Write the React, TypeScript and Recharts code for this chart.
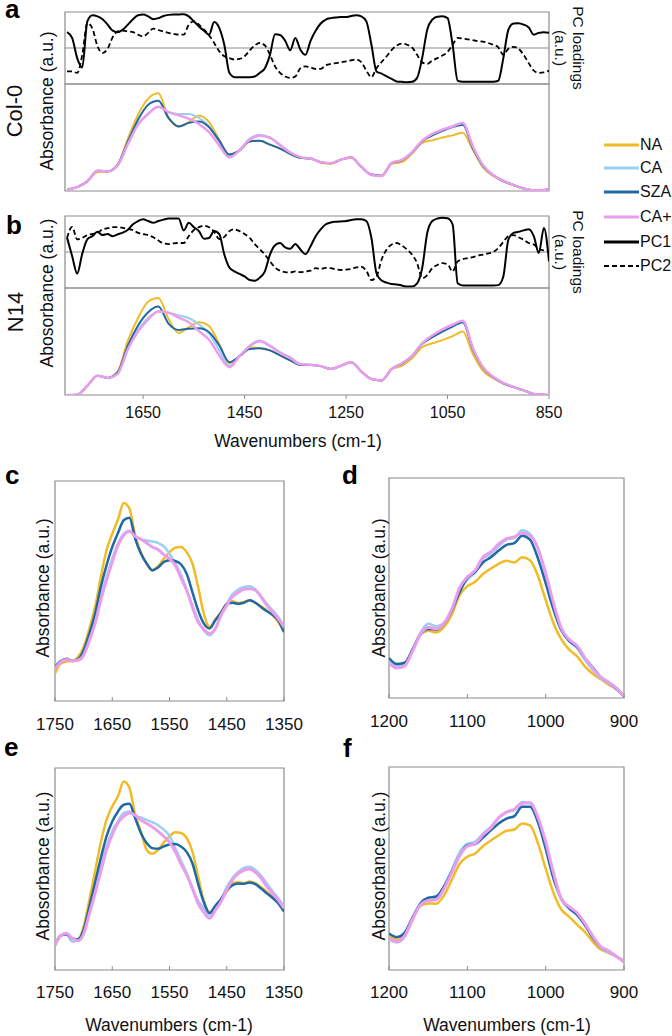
import { LineChart, Line, XAxis, YAxis, ReferenceArea, ReferenceLine } from "recharts";

const FONT = '"Liberation Sans", Arial, Helvetica, sans-serif';
const GRID = "#8c8c8c";
const COLORS = { na: "#f0bc26", ca: "#9ccff0", sza: "#1f6aa6", caPlus: "#eb9ded" };

// wavenumber grids (cm-1)
const wnFull = [
  1800, 1780, 1760, 1740, 1720, 1700, 1680, 1660, 1640, 1620, 1600, 1580, 1560, 1540, 1520, 1500, 1480, 1460,
  1440, 1420, 1400, 1380, 1360, 1340, 1320, 1300, 1280, 1260, 1240, 1220, 1200, 1180, 1160, 1140, 1120, 1100,
  1080, 1060, 1040, 1020, 1000, 980, 960, 940, 920, 900, 880, 860, 850,
];
const wnLoad = [
  1800, 1790, 1780, 1770, 1760, 1750, 1740, 1730, 1720, 1710, 1700, 1690, 1680, 1670, 1660, 1650, 1640, 1630,
  1620, 1610, 1600, 1590, 1580, 1570, 1560, 1550, 1540, 1530, 1520, 1510, 1500, 1490, 1480, 1470, 1460, 1450,
  1440, 1430, 1420, 1410, 1400, 1390, 1380, 1370, 1360, 1350, 1340, 1330, 1320, 1310, 1300, 1290, 1280, 1270,
  1260, 1250, 1240, 1230, 1220, 1210, 1200, 1190, 1180, 1170, 1160, 1150, 1140, 1130, 1120, 1110, 1100, 1090,
  1080, 1070, 1060, 1050, 1040, 1030, 1020, 1010, 1000, 990, 980, 970, 960, 950, 940, 930, 920, 910, 900, 890,
  880, 870, 860, 850,
];
const wnAmide = [
  1750, 1740, 1730, 1720, 1710, 1700, 1690, 1680, 1670, 1660, 1650, 1640, 1630, 1620, 1610, 1600, 1590, 1580,
  1570, 1560, 1550, 1540, 1530, 1520, 1510, 1500, 1490, 1480, 1470, 1460, 1450, 1440, 1430, 1420, 1410, 1400,
  1390, 1380, 1370, 1360, 1350,
];
const wnSugar = [
  1200, 1190, 1180, 1170, 1160, 1150, 1140, 1130, 1120, 1110, 1100, 1090, 1080, 1070, 1060, 1050, 1040, 1030,
  1020, 1010, 1000, 990, 980, 970, 960, 950, 940, 930, 920, 910, 900,
];

const ticksFull = [1650, 1450, 1250, 1050, 850];
const ticksAmide = [1750, 1650, 1550, 1450, 1350];
const ticksSugar = [1200, 1100, 1000, 900];

// Col-0 full spectra (panel a)
const colNA = [
  0.04, 0.11, 0.27, 0.53, 0.55, 0.74, 1.47, 2.14, 2.59, 2.74, 2.05, 1.81, 1.93, 2.12, 1.93, 1.44, 1.02, 1.14, 1.39,
  1.41, 1.3, 1.19, 1.04, 0.93, 0.91, 0.79, 0.76, 0.88, 0.95, 0.68, 0.46, 0.43, 0.76, 0.81, 1.05, 1.35, 1.42, 1.5,
  1.56, 1.63, 1.15, 0.66, 0.42, 0.27, 0.16, 0.06, 0.02, 0.03, 0.05,
];
const colSZA = [
  0.04, 0.11, 0.27, 0.57, 0.55, 0.74, 1.39, 2.0, 2.42, 2.53, 2.05, 1.81, 1.91, 1.95, 1.79, 1.41, 1.02, 1.14, 1.39,
  1.41, 1.3, 1.19, 1.04, 0.93, 0.91, 0.81, 0.78, 0.88, 0.94, 0.68, 0.46, 0.43, 0.78, 0.86, 1.08, 1.39, 1.56, 1.69,
  1.79, 1.86, 1.2, 0.7, 0.44, 0.28, 0.17, 0.07, 0.02, 0.03, 0.05,
];
const colCA = [
  0.04, 0.11, 0.27, 0.57, 0.55, 0.72, 1.32, 1.88, 2.18, 2.36, 2.21, 2.16, 2.16, 2.05, 1.81, 1.39, 0.96, 1.14, 1.47,
  1.58, 1.5, 1.3, 1.09, 0.95, 0.91, 0.81, 0.78, 0.88, 0.94, 0.68, 0.45, 0.42, 0.79, 0.87, 1.09, 1.41, 1.59, 1.72,
  1.82, 1.9, 1.23, 0.71, 0.44, 0.28, 0.17, 0.07, 0.02, 0.03, 0.05,
];
const colCAplus = [
  0.04, 0.11, 0.27, 0.57, 0.55, 0.72, 1.32, 1.86, 2.16, 2.36, 2.21, 2.12, 2.03, 1.88, 1.65, 1.28, 0.94, 1.14, 1.44,
  1.55, 1.49, 1.28, 1.08, 0.95, 0.91, 0.81, 0.78, 0.88, 0.94, 0.68, 0.45, 0.42, 0.79, 0.87, 1.09, 1.41, 1.6, 1.72,
  1.81, 1.91, 1.25, 0.72, 0.45, 0.29, 0.17, 0.07, 0.02, 0.03, 0.05,
];

// N14 full spectra (panel b)
const n14NA = [
  0.0, 0.01, 0.26, 0.54, 0.48, 0.66, 1.53, 2.16, 2.62, 2.72, 2.14, 1.74, 1.9, 2.04, 1.93, 1.43, 0.89, 1.09, 1.34,
  1.31, 1.25, 1.11, 0.97, 0.84, 0.84, 0.81, 0.73, 0.82, 0.92, 0.66, 0.45, 0.41, 0.73, 0.82, 1.03, 1.34, 1.45, 1.54,
  1.65, 1.78, 1.15, 0.68, 0.47, 0.32, 0.22, 0.13, 0.03, 0.01, 0.0,
];
const n14SZA = [
  0.0, 0.01, 0.26, 0.54, 0.48, 0.64, 1.39, 1.95, 2.32, 2.48, 2.0, 1.82, 1.86, 1.87, 1.76, 1.39, 0.92, 1.09, 1.29,
  1.31, 1.25, 1.11, 0.97, 0.84, 0.84, 0.81, 0.73, 0.82, 0.92, 0.66, 0.45, 0.41, 0.73, 0.88, 1.09, 1.43, 1.62, 1.78,
  1.92, 2.04, 1.28, 0.76, 0.5, 0.33, 0.22, 0.13, 0.03, 0.01, 0.0,
];
const n14CA = [
  0.0, 0.01, 0.26, 0.54, 0.48, 0.6, 1.29, 1.84, 2.16, 2.34, 2.31, 2.23, 2.16, 1.98, 1.72, 1.25, 0.82, 1.09, 1.39,
  1.53, 1.39, 1.2, 1.06, 0.87, 0.85, 0.81, 0.73, 0.82, 0.92, 0.66, 0.45, 0.41, 0.73, 0.89, 1.1, 1.45, 1.66, 1.83,
  1.96, 2.07, 1.3, 0.77, 0.5, 0.33, 0.22, 0.13, 0.03, 0.01, 0.0,
];
const n14CAplus = [
  0.0, 0.01, 0.26, 0.54, 0.48, 0.6, 1.29, 1.78, 2.12, 2.34, 2.31, 2.17, 2.04, 1.79, 1.55, 1.11, 0.78, 1.09, 1.37,
  1.51, 1.37, 1.18, 1.04, 0.86, 0.85, 0.81, 0.73, 0.82, 0.92, 0.66, 0.45, 0.41, 0.73, 0.89, 1.1, 1.45, 1.67, 1.84,
  1.97, 2.08, 1.32, 0.78, 0.51, 0.34, 0.23, 0.13, 0.03, 0.01, 0.0,
];

// PC loadings
const colPC1 = [
  0.44, 0.28, -0.28, -0.54, 0.74, 0.91, 0.88, 0.8, 0.65, 0.48, 0.44, 0.51, 0.65, 0.8, 0.91, 0.93, 0.88, 0.8, 0.83,
  0.89, 0.92, 0.93, 0.93, 0.94, 0.88, 0.74, 0.6, 0.48, 0.37, 0.72, 0.56, 0.09, -0.69, -0.81, -0.81, -0.81, -0.81,
  -0.79, -0.69, -0.56, -0.19, 0.38, 0.36, 0.2, -0.06, 0.28, -0.05, -0.19, 0.2, 0.48, 0.68, 0.79, 0.83, 0.85, 0.86,
  0.86, 0.89, 0.91, 0.88, 0.74, 0.09, -0.65, -0.71, -0.79, -0.86, -0.93, -0.94, -0.95, -0.94, -0.83, -0.28, 0.51,
  0.79, 0.87, 0.88, 0.83, 0.09, -0.91, -0.94, -0.94, -0.94, -0.94, -0.94, -0.94, -0.94, -0.91, -0.28, 0.51, 0.68,
  0.69, 0.65, 0.57, 0.37, 0.42, 0.44, 0.42,
];
const colPC2 = [
  -0.65, -0.65, -0.69, -0.19, 0.69, 0.54, 0.05, -0.14, -0.02, 0.3, 0.46, 0.48, 0.46, 0.44, 0.37, 0.32, 0.42, 0.54,
  0.5, 0.46, 0.42, 0.39, 0.37, 0.37, 0.65, 0.74, 0.65, 0.51, 0.35, 0.14, -0.09, -0.23, -0.28, -0.32, -0.3, -0.23,
  -0.07, 0.07, 0.14, 0.07, -0.19, -0.51, -0.69, -0.79, -0.83, -0.79, -0.56, -0.51, -0.54, -0.58, -0.58, -0.48,
  -0.44, -0.42, -0.4, -0.37, -0.34, -0.32, -0.39, -0.63, -0.81, -0.56, -0.39, -0.23, -0.05, 0.07, 0.12, 0.09, 0.02,
  -0.19, -0.4, -0.44, -0.35, -0.28, -0.21, -0.11, 0.09, 0.28, 0.26, 0.24, 0.22, 0.19, 0.18, 0.14, 0.09, 0.02, -0.19,
  -0.02, 0.03, -0.02, -0.19, -0.42, -0.63, -0.69, -0.68, -0.63,
];
const n14PC1 = [
  0.4, -0.11, -0.6, -0.05, 0.35, 0.44, 0.56, 0.47, 0.5, 0.44, 0.49, 0.54, 0.62, 0.77, 0.86, 0.91, 0.86, 0.81, 0.86,
  0.9, 0.93, 0.93, 0.93, 0.6, 0.81, 0.69, 0.58, 0.37, 0.39, 0.58, 0.5, -0.07, -0.43, -0.54, -0.61, -0.68, -0.78,
  -0.8, -0.71, -0.54, -0.07, 0.19, 0.25, 0.13, 0.09, 0.22, 0.07, -0.06, 0.16, 0.44, 0.63, 0.77, 0.82, 0.84, 0.85,
  0.86, 0.89, 0.91, 0.91, 0.86, 0.39, -0.59, -0.79, -0.85, -0.89, -0.9, -0.93, -0.96, -0.96, -0.87, -0.45, 0.53,
  0.86, 0.93, 0.95, 0.94, 0.77, -0.87, -0.93, -0.93, -0.93, -0.93, -0.93, -0.93, -0.93, -0.92, -0.68, 0.35, 0.53,
  0.56, 0.6, 0.63, 0.44, -0.03, 0.67, -0.26,
];
const n14PC2 = [
  0.39, 0.7, 0.35, 0.39, 0.47, 0.5, 0.53, 0.63, 0.66, 0.69, 0.69, 0.67, 0.64, 0.61, 0.53, 0.5, 0.47, 0.41, 0.32,
  0.24, 0.22, 0.24, 0.25, 0.25, 0.44, 0.61, 0.69, 0.73, 0.69, 0.56, 0.36, 0.42, 0.58, 0.63, 0.58, 0.5, 0.39, 0.22,
  0.08, -0.07, -0.26, -0.43, -0.52, -0.56, -0.57, -0.54, -0.56, -0.54, -0.52, -0.45, -0.47, -0.44, -0.45, -0.48,
  -0.5, -0.49, -0.47, -0.43, -0.41, -0.52, -0.78, -0.68, -0.21, 0.07, 0.21, 0.25, 0.18, 0.07, -0.07, -0.31, -0.73,
  -0.64, -0.45, -0.36, -0.31, -0.34, -0.54, -0.26, -0.2, -0.17, -0.14, -0.1, -0.07, -0.04, 0.0, 0.11, 0.28, 0.44,
  0.47, 0.41, 0.34, 0.25, 0.21, 0.09, 0.04, 0.02,
];

// zoomed regions, Col-0 (c, d)
const cNA = [
  0.75, 1.02, 1.08, 1.09, 1.2, 1.47, 1.97, 2.56, 3.38, 4.11, 4.56, 4.95, 5.4, 5.25, 4.52, 4.06, 3.75, 3.58, 3.67,
  3.88, 4.06, 4.18, 4.2, 4.06, 3.75, 3.11, 2.38, 2.02, 2.22, 2.43, 2.65, 2.72, 2.67, 2.7, 2.75, 2.68, 2.58, 2.47,
  2.34, 2.15, 1.88,
];
const cSZA = [
  0.93, 1.08, 1.15, 1.09, 1.14, 1.38, 1.84, 2.38, 3.11, 3.7, 4.2, 4.58, 4.93, 5.0, 4.43, 4.02, 3.75, 3.56, 3.64,
  3.79, 3.84, 3.82, 3.73, 3.47, 2.97, 2.47, 2.11, 1.98, 2.2, 2.41, 2.64, 2.68, 2.65, 2.68, 2.75, 2.68, 2.56, 2.45,
  2.35, 2.2, 1.88,
];
const cCA = [
  0.93, 1.1, 1.13, 1.09, 1.12, 1.29, 1.7, 2.2, 2.84, 3.38, 3.88, 4.29, 4.56, 4.64, 4.5, 4.41, 4.38, 4.35, 4.31,
  4.22, 4.02, 3.76, 3.45, 3.02, 2.61, 2.2, 1.93, 1.79, 1.97, 2.34, 2.65, 2.91, 3.04, 3.11, 3.13, 3.04, 2.85, 2.65,
  2.47, 2.29, 2.02,
];
const cCAplus = [
  0.88, 1.06, 1.13, 1.09, 1.11, 1.25, 1.65, 2.11, 2.75, 3.29, 3.79, 4.25, 4.52, 4.63, 4.49, 4.41, 4.31, 4.2, 4.13,
  3.99, 3.88, 3.7, 3.36, 3.02, 2.56, 2.15, 1.95, 1.84, 1.97, 2.34, 2.61, 2.84, 2.96, 3.05, 3.06, 3.02, 2.84, 2.61,
  2.43, 2.25, 2.02,
];
const dNA = [
  0.87, 0.77, 0.8, 1.1, 1.44, 1.53, 1.49, 1.61, 1.89, 2.33, 2.54, 2.64, 2.82, 2.94, 3.05, 3.12, 3.08, 3.2, 3.13,
  2.78, 2.23, 1.7, 1.33, 1.1, 0.95, 0.72, 0.55, 0.43, 0.31, 0.2, 0.04,
];
const dSZA = [
  0.91, 0.77, 0.8, 1.1, 1.44, 1.57, 1.55, 1.69, 1.98, 2.4, 2.73, 2.86, 3.08, 3.2, 3.35, 3.48, 3.52, 3.69, 3.6,
  3.18, 2.61, 2.01, 1.54, 1.29, 1.16, 0.91, 0.7, 0.48, 0.36, 0.22, 0.04,
];
const dCA = [
  0.83, 0.72, 0.77, 1.1, 1.48, 1.69, 1.63, 1.7, 2.01, 2.46, 2.69, 2.86, 3.16, 3.28, 3.45, 3.6, 3.64, 3.81, 3.73,
  3.41, 2.8, 2.12, 1.55, 1.33, 1.14, 0.87, 0.64, 0.45, 0.34, 0.2, 0.04,
];
const dCAplus = [
  0.8, 0.68, 0.73, 1.06, 1.44, 1.61, 1.57, 1.7, 2.01, 2.5, 2.75, 2.9, 3.2, 3.32, 3.5, 3.62, 3.66, 3.75, 3.69, 3.41,
  2.84, 2.16, 1.59, 1.33, 1.19, 0.91, 0.68, 0.48, 0.36, 0.23, 0.04,
];

// zoomed regions, N14 (e, f)
const eNA = [
  0.74, 1.02, 1.06, 0.94, 0.91, 1.29, 2.08, 2.93, 3.79, 4.46, 4.86, 5.16, 5.6, 5.41, 4.61, 4.12, 3.57, 3.45, 3.57,
  3.79, 3.97, 4.09, 4.07, 3.92, 3.52, 2.78, 2.06, 1.71, 1.88, 2.08, 2.33, 2.58, 2.61, 2.58, 2.63, 2.58, 2.46, 2.32,
  2.18, 2.0, 1.74,
];
const eSZA = [
  0.74, 1.02, 1.06, 0.94, 0.91, 1.19, 1.88, 2.6, 3.32, 3.97, 4.41, 4.71, 4.91, 4.94, 4.51, 4.07, 3.77, 3.62, 3.6,
  3.67, 3.73, 3.74, 3.67, 3.51, 3.17, 2.56, 2.01, 1.69, 1.91, 2.11, 2.36, 2.52, 2.57, 2.56, 2.6, 2.55, 2.42, 2.28,
  2.14, 1.98, 1.74,
];
const eCA = [
  0.74, 1.02, 1.06, 0.84, 0.9, 1.11, 1.77, 2.38, 3.03, 3.67, 4.12, 4.43, 4.66, 4.71, 4.58, 4.53, 4.46, 4.39, 4.3,
  4.17, 3.99, 3.62, 3.25, 2.88, 2.43, 2.06, 1.84, 1.64, 1.86, 2.08, 2.46, 2.73, 2.91, 3.03, 3.07, 2.97, 2.8, 2.57,
  2.34, 2.13, 1.88,
];
const eCAplus = [
  0.74, 1.02, 1.09, 0.94, 0.87, 1.07, 1.67, 2.28, 2.93, 3.57, 4.02, 4.37, 4.56, 4.66, 4.6, 4.46, 4.35, 4.25, 4.12,
  3.97, 3.79, 3.52, 3.15, 2.83, 2.42, 1.98, 1.71, 1.54, 1.77, 2.03, 2.38, 2.68, 2.86, 2.96, 3.0, 2.9, 2.73, 2.48,
  2.28, 2.08, 1.84,
];
const fNA = [
  0.82, 0.75, 0.86, 1.23, 1.58, 1.64, 1.63, 1.83, 2.21, 2.61, 2.79, 2.87, 3.05, 3.19, 3.32, 3.43, 3.46, 3.61, 3.56,
  3.13, 2.5, 1.9, 1.49, 1.31, 1.12, 0.94, 0.7, 0.51, 0.42, 0.33, 0.2,
];
const fSZA = [
  0.9, 0.81, 0.92, 1.29, 1.64, 1.78, 1.81, 2.05, 2.42, 2.81, 3.07, 3.1, 3.26, 3.44, 3.61, 3.73, 3.79, 4.02, 4.02,
  3.65, 2.99, 2.25, 1.76, 1.52, 1.36, 1.11, 0.8, 0.57, 0.47, 0.34, 0.22,
];
const fCA = [
  0.74, 0.68, 0.82, 1.25, 1.61, 1.73, 1.77, 2.05, 2.46, 2.89, 3.11, 3.16, 3.36, 3.53, 3.76, 3.89, 3.94, 4.14, 4.11,
  3.7, 3.07, 2.34, 1.74, 1.52, 1.37, 1.11, 0.8, 0.56, 0.44, 0.34, 0.2,
];
const fCAplus = [
  0.78, 0.7, 0.84, 1.25, 1.6, 1.71, 1.73, 1.99, 2.39, 2.81, 3.05, 3.11, 3.33, 3.5, 3.75, 3.89, 3.96, 4.11, 4.12,
  3.77, 3.16, 2.39, 1.75, 1.56, 1.41, 1.15, 0.84, 0.58, 0.47, 0.34, 0.22,
];

type Row = Record<string, number>;

function table(x: number[], cols: Record<string, number[]>): Row[] {
  return x.map((w, i) => {
    const row: Row = { w };
    for (const k of Object.keys(cols)) row[k] = cols[k][i];
    return row;
  });
}

interface SeriesDef {
  key: string;
  color: string;
  width: number;
  dash?: string;
}

const thin: SeriesDef[] = [
  { key: "na", color: COLORS.na, width: 2 },
  { key: "ca", color: COLORS.ca, width: 2 },
  { key: "sza", color: COLORS.sza, width: 2 },
  { key: "caPlus", color: COLORS.caPlus, width: 2.5 },
];
const thick: SeriesDef[] = [
  { key: "na", color: COLORS.na, width: 2.5 },
  { key: "ca", color: COLORS.ca, width: 2.5 },
  { key: "sza", color: COLORS.sza, width: 2.5 },
  { key: "caPlus", color: COLORS.caPlus, width: 3 },
];
const loadings: SeriesDef[] = [
  { key: "pc1", color: "#000", width: 2 },
  { key: "pc2", color: "#000", width: 1.8, dash: "5 3" },
];

interface PanelProps {
  left: number;
  top: number;
  width: number;
  height: number;
  data: Row[];
  series: SeriesDef[];
  xDomain: [number, number];
  yDomain: [number, number];
  yTicks?: number[];
  rightTicks?: boolean;
  xTicks?: number[];
  xTickInside?: boolean;
  tickMargin?: number;
  tickFont?: number;
  zeroLine?: boolean;
}

function Panel(p: PanelProps) {
  const padL = 30;
  const padR = 30;
  const padT = 4;
  const axisH = p.xTicks ? 40 : 0;
  const padB = p.xTicks ? 0 : 4;
  return (
    <div style={{ position: "absolute", left: p.left - padL, top: p.top - padT }}>
      <LineChart
        width={p.width + padL + padR}
        height={p.height + padT + padB + axisH}
        data={p.data}
        margin={{ top: padT, right: padR, left: padL, bottom: padB }}
      >
        <XAxis
          dataKey="w"
          type="number"
          domain={p.xDomain}
          reversed
          allowDataOverflow
          hide={!p.xTicks}
          ticks={p.xTicks}
          interval={0}
          height={axisH || 1}
          axisLine={false}
          tickLine={{ stroke: GRID }}
          tickSize={p.xTickInside ? -4 : 4}
          tickMargin={p.tickMargin ?? 8}
          tick={{ fontSize: p.tickFont ?? 16, fill: "#111", fontFamily: FONT }}
        />
        <YAxis
          yAxisId="l"
          type="number"
          domain={p.yDomain}
          allowDataOverflow
          hide={!p.yTicks}
          mirror
          ticks={p.yTicks}
          tick={false}
          axisLine={false}
          tickLine={{ stroke: GRID }}
          tickSize={4}
        />
        {p.rightTicks && (
          <YAxis
            yAxisId="r"
            orientation="right"
            type="number"
            domain={p.yDomain}
            allowDataOverflow
            mirror
            ticks={p.yTicks}
            tick={false}
            axisLine={false}
            tickLine={{ stroke: GRID }}
            tickSize={4}
          />
        )}
        <ReferenceArea
          yAxisId="l"
          x1={p.xDomain[0]}
          x2={p.xDomain[1]}
          y1={p.yDomain[0]}
          y2={p.yDomain[1]}
          fill="none"
          stroke={GRID}
          strokeWidth={1.2}
          ifOverflow="visible"
        />
        {p.zeroLine && <ReferenceLine yAxisId="l" y={0} stroke={GRID} strokeWidth={1.2} />}
        {p.series.map((s) => (
          <Line
            key={s.key}
            yAxisId="l"
            dataKey={s.key}
            type="monotone"
            stroke={s.color}
            strokeWidth={s.width}
            strokeDasharray={s.dash}
            dot={false}
            activeDot={false}
            isAnimationActive={false}
          />
        ))}
      </LineChart>
    </div>
  );
}

function Txt({ x, y, children, size = 17.5, rotate = 0 }: any) {
  return (
    <div
      style={{
        position: "absolute",
        left: x,
        top: y,
        transform: `translate(-50%, -50%) rotate(${rotate}deg)`,
        fontSize: size,
        whiteSpace: "nowrap",
        lineHeight: 1.15,
        textAlign: "center",
        color: "#111",
      }}
    >
      {children}
    </div>
  );
}

// bold panel letter, placed by its baseline
function Letter({ x, baseline, children }: any) {
  return (
    <div
      style={{
        position: "absolute",
        left: x,
        top: baseline - 16.8,
        fontSize: 26,
        fontWeight: 700,
        lineHeight: 0.6,
        height: 20,
      }}
    >
      {children}
    </div>
  );
}

const legendItems = [
  { label: "NA", color: COLORS.na, y: 145 },
  { label: "CA", color: COLORS.ca, y: 168 },
  { label: "SZA", color: COLORS.sza, y: 192 },
  { label: "CA+", color: COLORS.caPlus, y: 217 },
  { label: "PC1", color: "#000", y: 242 },
  { label: "PC2", color: "#000", y: 266, dash: "5 3" },
];

export default function App() {
  const fullA = table(wnFull, { na: colNA, ca: colCA, sza: colSZA, caPlus: colCAplus });
  const fullB = table(wnFull, { na: n14NA, ca: n14CA, sza: n14SZA, caPlus: n14CAplus });
  const loadA = table(wnLoad, { pc1: colPC1, pc2: colPC2 });
  const loadB = table(wnLoad, { pc1: n14PC1, pc2: n14PC2 });
  const dataC = table(wnAmide, { na: cNA, ca: cCA, sza: cSZA, caPlus: cCAplus });
  const dataD = table(wnSugar, { na: dNA, ca: dCA, sza: dSZA, caPlus: dCAplus });
  const dataE = table(wnAmide, { na: eNA, ca: eCA, sza: eSZA, caPlus: eCAplus });
  const dataF = table(wnSugar, { na: fNA, ca: fCA, sza: fSZA, caPlus: fCAplus });

  const fullDomain: [number, number] = [850, 1804];

  return (
    <div
      style={{
        position: "absolute",
        left: 0,
        top: 0,
        width: 672,
        height: 1036,
        background: "#fff",
        fontFamily: FONT,
        overflow: "hidden",
      }}
    >
      {/* panel a */}
      <Panel left={65} top={12} width={484} height={72} data={loadA} series={loadings} xDomain={fullDomain} yDomain={[-1, 1]} zeroLine />
      <Panel left={65} top={84} width={484} height={107} data={fullA} series={thin} xDomain={fullDomain} yDomain={[0, 3]} yTicks={[1, 2]} rightTicks />
      {/* panel b */}
      <Panel left={65} top={216} width={484} height={72} data={loadB} series={loadings} xDomain={fullDomain} yDomain={[-1, 1]} zeroLine />
      <Panel
        left={65}
        top={288}
        width={484}
        height={107}
        data={fullB}
        series={thin}
        xDomain={fullDomain}
        yDomain={[0, 3]}
        yTicks={[1, 2]}
        rightTicks
        xTicks={ticksFull}
        tickMargin={8}
        tickFont={16}
      />
      {/* panels c-f */}
      <Panel left={55} top={481} width={229} height={220} data={dataC} series={thick} xDomain={[1350, 1750]} yDomain={[0, 6]} yTicks={[2, 3, 4, 5]} xTicks={ticksAmide} xTickInside tickMargin={21} tickFont={17} />
      <Panel left={389} top={478} width={235} height={220} data={dataD} series={thick} xDomain={[900, 1200]} yDomain={[0, 5]} yTicks={[1, 2, 3, 4]} xTicks={ticksSugar} xTickInside tickMargin={21} tickFont={17} />
      <Panel left={55} top={768} width={229} height={202} data={dataE} series={thick} xDomain={[1350, 1750]} yDomain={[0, 6]} yTicks={[1, 2, 3, 4, 5]} xTicks={ticksAmide} xTickInside tickMargin={20} tickFont={17} />
      <Panel left={389} top={767} width={235} height={203} data={dataF} series={thick} xDomain={[900, 1200]} yDomain={[0, 5]} yTicks={[1, 2, 3, 4]} xTicks={ticksSugar} xTickInside tickMargin={20} tickFont={17} />

      {/* letters */}
      <Letter x={5} baseline={19}>a</Letter>
      <Letter x={6} baseline={235}>b</Letter>
      <Letter x={5} baseline={485}>c</Letter>
      <Letter x={342} baseline={485}>d</Letter>
      <Letter x={4} baseline={757}>e</Letter>
      <Letter x={343} baseline={758}>f</Letter>

      {/* axis titles */}
      <Txt x={15} y={111} size={22} rotate={-90}>Col-0</Txt>
      <Txt x={47} y={101} rotate={-90}>Absorbance (a.u.)</Txt>
      <Txt x={16} y={312} size={22} rotate={-90}>N14</Txt>
      <Txt x={47} y={293} rotate={-90}>Abosorbance (a.u.)</Txt>
      <Txt x={569} y={48} size={15.5} rotate={90}>
        PC loadings
        <br />
        (a.u.)
      </Txt>
      <Txt x={569} y={252} size={15.5} rotate={90}>
        PC loadings
        <br />
        (a.u.)
      </Txt>
      <Txt x={298} y={441}>Wavenumbers (cm-1)</Txt>
      <Txt x={43} y={588} rotate={-90}>Absorbance (a.u.)</Txt>
      <Txt x={379} y={588} rotate={-90}>Absorbance (a.u.)</Txt>
      <Txt x={43} y={866} rotate={-90}>Abosorbance (a.u.)</Txt>
      <Txt x={379} y={866} rotate={-90}>Abosorbance (a.u.)</Txt>
      <Txt x={169} y={1025}>Wavenumbers (cm-1)</Txt>
      <Txt x={507} y={1025}>Wavenumbers (cm-1)</Txt>

      {/* legend */}
      {legendItems.map((it) => (
        <div
          key={it.label}
          style={{ position: "absolute", left: 604, top: it.y - 11, height: 22, display: "flex", alignItems: "center" }}
        >
          <svg width={35} height={6} style={{ display: "block" }}>
            <line x1={0} y1={3} x2={35} y2={3} stroke={it.color} strokeWidth={it.dash ? 2 : 3} strokeDasharray={it.dash} />
          </svg>
          <span style={{ fontSize: 16, marginLeft: 1, color: "#111" }}>{it.label}</span>
        </div>
      ))}
    </div>
  );
}
